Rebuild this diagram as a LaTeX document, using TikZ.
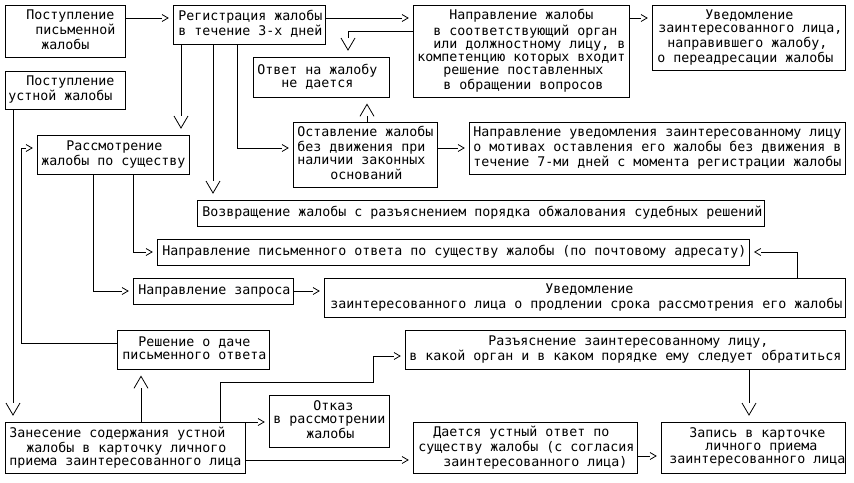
\documentclass[tikz,border=0pt]{standalone}
\usepackage{fontspec}
\newfontfamily\dmono{DejaVu Sans Mono}
\usetikzlibrary{arrows.meta}
\pgfdeclarearrow{
  name = Chev,
  parameters = {\the\pgfarrowlength,\the\pgfarrowwidth},
  setup code = {
    \pgfarrowssettipend{0pt}
    \pgfarrowssetlineend{-\pgfarrowlength}
    \pgfarrowssetbackend{-\pgfarrowlength}
    \pgfarrowssavethe\pgfarrowlength
    \pgfarrowssavethe\pgfarrowwidth
  },
  drawing code = {
    \pgfpathmoveto{\pgfpoint{-\pgfarrowlength}{0.5\pgfarrowwidth}}
    \pgfpathlineto{\pgfpointorigin}
    \pgfpathlineto{\pgfpoint{-\pgfarrowlength}{-0.5\pgfarrowwidth}}
    \pgfusepathqstroke
  },
  defaults = {length=6pt, width=7pt}
}
\newcommand\bxline[2]{\leavevmode\rlap{\spaceskip=8pt\relax\xspaceskip=8pt\relax\strut\hspace*{#1pt}#2}}
\begin{document}
\begin{tikzpicture}[x=1pt,y=-1pt,
  box/.style={draw, line width=0.8pt, inner sep=0pt, anchor=north west, align=left,
    font=\dmono\fontsize{13.29pt}{13pt}\selectfont},
  bx/.style 2 args={box, minimum width=#1pt, text width=#1pt, minimum height=#2pt},
  conn/.style={draw, line width=0.8pt},
  harr/.style={conn, -{Chev[length=6pt,width=7pt]}, shorten >=5pt},
  varr/.style={conn, -{Chev[length=12pt,width=14pt]}, shorten >=7pt},
  uarr/.style={conn, -{Chev[length=12pt,width=14pt]}, shorten >=6.5pt}]
\fill[white] (0,0) rectangle (854,482);
\useasboundingbox (0,0) rectangle (854,482);

\node[bx={120}{52}] (pism) at (5,5) {\bxline{21}{Поступление}\\\bxline{30}{письменной}\\\bxline{36}{жалобы}};
\node[bx={120}{38}] (ustn) at (5,71) {\bxline{21}{Поступление}\\\bxline{3}{устной жалобы}};
\node[bx={152}{39}] (reg) at (173,5) {\bxline{5}{Регистрация жалобы}\\\bxline{5}{в течение 3-х дней}};
\node[bx={216}{92}] (napr) at (413,5) {\bxline{36}{Направление жалобы}\\\bxline{20}{в соответствующий орган}\\\bxline{20}{или должностному лицу, в}\\\bxline{4}{компетенцию которых входит}\\\bxline{30}{решение поставленных}\\\bxline{30}{в обращении вопросов}};
\node[bx={193}{65}] (uved) at (652,5) {\bxline{53}{Уведомление}\\\bxline{6}{заинтересованного лица,}\\\bxline{15}{направившего жалобу,}\\\bxline{5}{о переадресации жалобы}};
\node[bx={136}{40}] (otvet) at (253,57) {\bxline{4}{Ответ на жалобу}\\\bxline{28}{не дается}};
\node[bx={152}{39}] (rassm) at (37,135) {\bxline{29}{Рассмотрение}\\\bxline{4}{жалобы по существу}};
\node[bx={144}{65}] (ostav) at (293,122) {\bxline{4}{Оставление жалобы}\\\bxline{4}{без движения при}\\\bxline{4}{наличии законных}\\\bxline{37}{оснований}};
\node[bx={376}{52}] (napruv) at (469,122) {\bxline{4}{Направление уведомления заинтересованному лицу}\\\bxline{4}{о мотивах оставления его жалобы без движения в}\\\bxline{4}{течение 7-ми дней с момента регистрации жалобы}};
\node[bx={567}{26}] (vozvr) at (197,200) {\bxline{5}{Возвращение жалобы с разъяснением порядка обжалования судебных решений}};
\node[bx={592}{26}] (naprpism) at (157,239) {\bxline{5}{Направление письменного ответа по существу жалобы (по почтовому адресату)}};
\node[bx={160}{26}] (zapros) at (133,278) {\bxline{5}{Направление запроса}};
\node[bx={521}{39}] (uved2) at (324,278) {\bxline{221}{Уведомление}\\\bxline{6}{заинтересованного лица о продлении срока рассмотрения его жалобы}};
\node[bx={152}{39}] (resh) at (117,330) {\bxline{21}{Решение о даче}\\\bxline{5}{письменного ответа}};
\node[bx={440}{39}] (razy) at (405,330) {\bxline{83}{Разъяснение заинтересованному лицу,}\\\bxline{4}{в какой орган и в каком порядке ему следует обратиться}};
\node[bx={240}{51}] (zanes) at (5,422) {\bxline{4}{Занесение содержания устной}\\\bxline{21}{жалобы в карточку личного}\\\bxline{4}{приема заинтересованного лица}};
\node[bx={120}{52}] (otkaz) at (269,395) {\bxline{44}{Отказ}\\\bxline{4}{в рассмотрении}\\\bxline{37}{жалобы}};
\node[bx={224}{51}] (daet) at (413,422) {\bxline{20}{Дается устный ответ по}\\\bxline{5}{существу жалобы (с согласия}\\\bxline{30}{заинтересованного лица)}};
\node[bx={184}{51}] (zapis) at (661,422) {\bxline{28}{Запись в карточке}\\\bxline{44}{личного приема}\\\bxline{8}{заинтересованного лица}};

\draw[harr] (pism.east |- 0,18) -- (reg.west |- 0,18);
\draw[harr] (reg.east |- 0,18) -- (napr.west |- 0,18);
\draw[harr] (napr.east |- 0,18) -- (uved.west |- 0,18);
\draw[varr] (napr.west |- 0,31) -| (otvet.north -| 348,0);
\draw[varr] (reg.south -| 181,0) -- (rassm.north -| 181,0);
\draw[varr] (reg.south -| 213,0) -- (vozvr.north -| 213,0);
\draw[harr] (reg.south -| 237,0) |- (ostav.west |- 0,148);
\draw[uarr] (ostav.north -| 367,0) -- (otvet.south -| 367,0);
\draw[harr] (ostav.east |- 0,148) -- (napruv.west |- 0,148);
\draw[varr] (ustn.south -| 13,0) -- (zanes.north -| 13,0);
\draw[harr] (resh.west |- 0,343) -| ([xshift=-16pt]rassm.west |- 0,148) -- (rassm.west |- 0,148);
\draw[harr] (rassm.south -| 133,0) |- (naprpism.west |- 0,252);
\draw[harr] (rassm.south -| 93,0) |- (zapros.west |- 0,291);
\draw[harr] (zapros.east |- 0,291) -- (uved2.west |- 0,291);
\draw[harr] (uved2.north -| 797,0) |- (naprpism.east |- 0,252);
\draw[uarr] (zanes.north -| 141,0) -- (resh.south -| 141,0);
\draw[harr] (zanes.north -| 220,0) |- (373,382) |- (razy.west |- 0,356);
\draw[harr] (zanes.north east) -- (otkaz.west |- zanes.north east);
\draw[harr] (zanes.east |- 0,460) -- (daet.west |- 0,460);
\draw[harr] (daet.east |- 0,456) -- (zapis.west |- 0,456);
\draw[varr] (razy.south -| 749,0) -- (zapis.north -| 749,0);
\end{tikzpicture}
\end{document}
